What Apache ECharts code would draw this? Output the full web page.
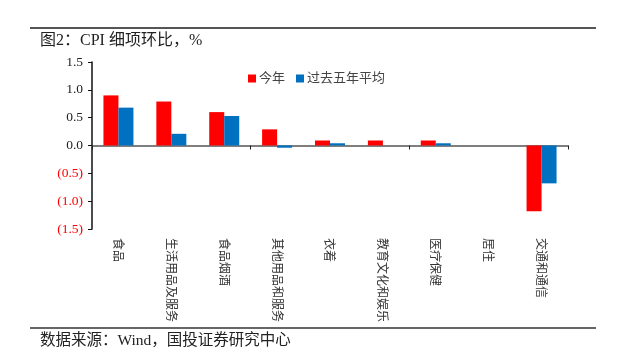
<!DOCTYPE html>
<html>
<head>
<meta charset="utf-8">
<script src="https://cdn.jsdelivr.net/npm/echarts@6/dist/echarts.min.js"></script>
<style>html,body{margin:0;padding:0;background:#fff}#c{width:639px;height:361px}</style>
</head>
<body>
<div id="c"></div>
<script>
var categories = ['食品', '生活用品及服务', '食品烟酒', '其他用品和服务', '衣着', '教育文化和娱乐', '医疗保健', '居住', '交通和通信'];
var thisYear = [0.90, 0.79, 0.60, 0.29, 0.09, 0.09, 0.09, 0.00, -1.18];
var fiveYearAvg = [0.68, 0.21, 0.53, -0.04, 0.04, 0.00, 0.04, 0.00, -0.68];
var seriesNames = ['今年', '过去五年平均'];
var titleText = '图2：CPI 细项环比，%';
var sourceText = '数据来源：Wind，国投证券研究中心';

var serif = "'Liberation Serif','Noto Sans CJK SC',serif";
var chart = echarts.init(document.getElementById('c'));
chart.setOption({
  animation: false,
  backgroundColor: '#fff',
  grid: {left: 92, right: 71, top: 62, bottom: 132, containLabel: false},
  legend: {
    top: 67, left: 243, itemWidth: 8, itemHeight: 8, itemGap: 11,
    icon: 'rect',
    textStyle: {fontFamily: serif, fontSize: 13, color: '#444', padding: [0, 0, 0, -2]},
    data: seriesNames
  },
  xAxis: [{
    type: 'category', data: categories, position: 'bottom',
    axisLine: {show: false, onZero: false}, axisTick: {show: false},
    axisLabel: {rotate: -90, fontSize: 12, color: '#333', margin: 9, fontFamily: "'Noto Sans CJK SC'"}
  }, {
    type: 'category', data: categories, position: 'bottom',
    axisLine: {show: true, onZero: true, lineStyle: {color: '#555', width: 1.5}},
    axisTick: {show: true, length: 4, lineStyle: {color: '#222'}},
    axisLabel: {show: false}
  }],
  yAxis: {
    type: 'value', min: -1.5, max: 1.5, interval: 0.5,
    splitLine: {show: false},
    axisLine: {show: true, lineStyle: {color: '#111', width: 1.5}},
    axisTick: {show: true, length: 4, lineStyle: {color: '#111'}},
    axisLabel: {
      margin: 9, fontFamily: serif, fontSize: 13.5, color: '#222',
      formatter: function (v) {
        if (v < -1e-9) return '{n|(' + Math.abs(v).toFixed(1) + ')}';
        return v.toFixed(1);
      },
      rich: {n: {color: '#FF0000', fontFamily: serif, fontSize: 13.5}}
    }
  },
  series: [{
    name: seriesNames[0], type: 'bar', data: thisYear, xAxisIndex: 0,
    barWidth: 15, barGap: '0%', itemStyle: {color: '#FF0000'}
  }, {
    name: seriesNames[1], type: 'bar', data: fiveYearAvg, xAxisIndex: 0,
    barWidth: 15, barGap: '0%', itemStyle: {color: '#0070C0'}
  }],
  graphic: [
    {type: 'line', shape: {x1: 30, y1: 28, x2: 596, y2: 28}, style: {stroke: '#555', lineWidth: 2}},
    {type: 'text', left: 40, top: 33, style: {text: titleText, font: "16px 'Liberation Serif','Noto Sans CJK SC'", fill: '#222'}},
    {type: 'line', shape: {x1: 30, y1: 328, x2: 596, y2: 328}, style: {stroke: '#333', lineWidth: 1.5}},
    {type: 'text', left: 40, top: 333, style: {text: sourceText, font: "15.5px 'Liberation Serif','Noto Sans CJK SC'", fill: '#222'}}
  ]
});
</script>
</body>
</html>
